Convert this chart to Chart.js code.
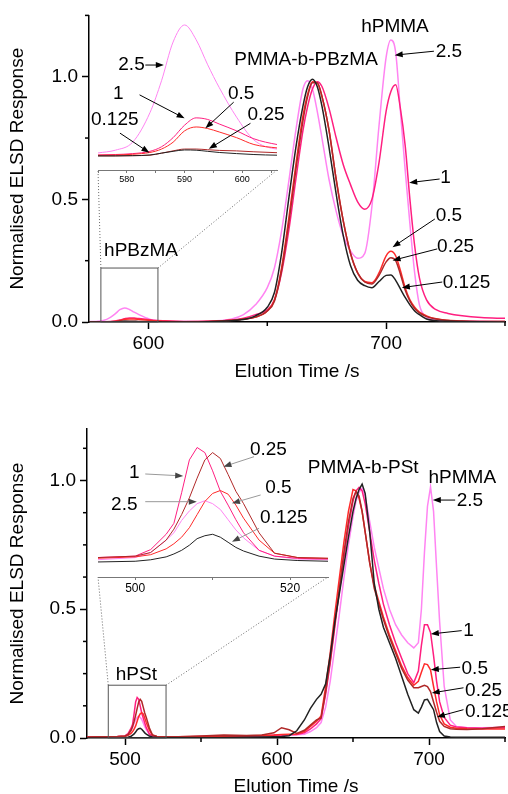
<!DOCTYPE html>
<html>
<head>
<meta charset="utf-8">
<title>ELSD traces</title>
<script src="https://cdn.jsdelivr.net/npm/chart.js@4.4.0/dist/chart.umd.min.js"></script>
<style>
  html, body { margin: 0; padding: 0; background: #fff; overflow: hidden; }
  #page { position: relative; width: 508px; height: 794px; overflow: hidden; }
  #page canvas { position: absolute; }
</style>
</head>
<body>
<div id="page">
  <canvas id="bzMain" width="508" height="400" style="left:0;top:0"></canvas>
  <canvas id="bzInset" width="200" height="176" style="left:88px;top:12px"></canvas>
  <canvas id="stMain" width="508" height="400" style="left:0;top:400px"></canvas>
  <canvas id="stInset" width="251" height="167" style="left:88px;top:430px"></canvas>
</div>
<script>
// concentrations, one trace each
const concLabels = ['0.125', '0.25', '0.5', '1', '2.5'];

// PMMA-b-PBzMA run
const timeBz = [575, 578, 581, 584, 586, 588, 590, 592, 594, 596,
  599, 602, 606, 615, 625, 635, 640, 645, 650, 653,
  656, 659, 662, 665, 667, 669, 671, 673, 676, 679,
  682, 685, 688, 691, 694, 697, 700, 702, 704, 706,
  708, 710, 712, 714, 717, 721, 726, 732, 740, 750];
const bz0125 = [0, 0, 0.0001, 0.0004, 0.0012, 0.002, 0.0026, 0.0025, 0.002, 0.0015,
  0.001, 0.0006, 0.0003, 0.0002, 0.001, 0.005, 0.01, 0.025, 0.06, 0.12,
  0.28, 0.5, 0.71, 0.88, 0.96, 0.99, 0.96, 0.88, 0.71, 0.52,
  0.35, 0.23, 0.17, 0.148, 0.14, 0.165, 0.19, 0.192, 0.17, 0.135,
  0.1, 0.07, 0.045, 0.03, 0.012, 0.005, 0.003, 0.002, 0.001, 0];
const bz025 = [0, 0, 0.0001, 0.0003, 0.0012, 0.0022, 0.003, 0.003, 0.0027, 0.0024,
  0.0022, 0.0018, 0.0014, 0.0008, 0.002, 0.007, 0.012, 0.02, 0.045, 0.085,
  0.21, 0.4, 0.62, 0.82, 0.92, 0.975, 0.975, 0.92, 0.78, 0.58,
  0.41, 0.28, 0.2, 0.163, 0.155, 0.19, 0.245, 0.262, 0.25, 0.195,
  0.13, 0.085, 0.055, 0.037, 0.022, 0.012, 0.006, 0.003, 0.002, 0.002];
const bz05 = [0.0003, 0.0004, 0.0007, 0.0015, 0.003, 0.006, 0.011, 0.0127, 0.012, 0.0105,
  0.008, 0.005, 0.0035, 0.0015, 0.002, 0.007, 0.012, 0.02, 0.045, 0.09,
  0.22, 0.42, 0.64, 0.84, 0.93, 0.98, 0.975, 0.92, 0.78, 0.58,
  0.41, 0.28, 0.2, 0.165, 0.16, 0.2, 0.27, 0.288, 0.27, 0.21,
  0.14, 0.09, 0.06, 0.04, 0.025, 0.013, 0.007, 0.004, 0.002, 0.002];
const bz1 = [0.0004, 0.0006, 0.001, 0.002, 0.004, 0.008, 0.0135, 0.0167, 0.016, 0.014,
  0.011, 0.0075, 0.005, 0.002, 0.003, 0.008, 0.015, 0.03, 0.05, 0.09,
  0.2, 0.37, 0.58, 0.78, 0.88, 0.95, 0.98, 0.96, 0.87, 0.75,
  0.64, 0.56, 0.49, 0.46, 0.5, 0.65, 0.86, 0.94, 0.967, 0.87,
  0.72, 0.5, 0.31, 0.18, 0.09, 0.05, 0.035, 0.025, 0.018, 0.015];
const bz25 = [0.0013, 0.0025, 0.006, 0.019, 0.033, 0.05, 0.0575, 0.051, 0.04, 0.03,
  0.017, 0.007, 0.003, 0.002, 0.003, 0.012, 0.03, 0.07, 0.14, 0.22,
  0.37, 0.57, 0.78, 0.95, 0.984, 0.95, 0.86, 0.75, 0.58, 0.45,
  0.35, 0.29, 0.26, 0.28, 0.47, 0.8, 1.08, 1.15, 1.1, 0.86,
  0.62, 0.4, 0.2, 0.07, 0.02, 0.008, 0.005, 0.004, 0.003, 0.002];

// PMMA-b-PSt run
const timeSt = [475, 485, 495, 500, 502, 504, 505, 506, 507, 508,
  509, 510, 511, 512, 513, 514, 516, 518, 521, 525,
  535, 550, 565, 580, 590, 598, 603, 608, 613, 618,
  622, 626, 629, 632, 635, 638, 641, 644, 647, 650,
  652, 654, 656, 658, 661, 664, 667, 670, 674, 678,
  682, 686, 690, 693, 695, 697, 699, 701, 703, 705,
  707, 710, 714, 718, 725, 735, 750];
const st0125 = [0, 0, 0, 0.001, 0.003, 0.007, 0.011, 0.016, 0.023, 0.032,
  0.036, 0.038, 0.034, 0.027, 0.02, 0.015, 0.008, 0.004, 0.002, 0.001,
  0.001, 0.001, 0.002, 0.003, 0.004, 0.005, 0.006, 0.009, 0.028, 0.07,
  0.115, 0.15, 0.17, 0.21, 0.32, 0.45, 0.56, 0.67, 0.78, 0.88,
  0.93, 0.965, 0.986, 0.95, 0.8, 0.6, 0.5, 0.43, 0.37, 0.31,
  0.24, 0.17, 0.11, 0.097, 0.12, 0.148, 0.15, 0.13, 0.11, 0.06,
  0.025, 0.008, 0.004, 0.003, 0.003, 0.003, 0.003];
const st025 = [0.004, 0.005, 0.006, 0.008, 0.013, 0.03, 0.045, 0.065, 0.088, 0.115,
  0.14, 0.15, 0.142, 0.12, 0.097, 0.08, 0.04, 0.012, 0.006, 0.005,
  0.005, 0.008, 0.012, 0.01, 0.012, 0.02, 0.04, 0.032, 0.018, 0.03,
  0.05, 0.07, 0.078, 0.18, 0.3, 0.44, 0.58, 0.72, 0.84, 0.93,
  0.957, 0.94, 0.88, 0.8, 0.68, 0.58, 0.52, 0.46, 0.39, 0.33,
  0.27, 0.225, 0.195, 0.195, 0.2, 0.205, 0.2, 0.18, 0.14, 0.1,
  0.065, 0.045, 0.036, 0.034, 0.033, 0.036, 0.045];
const st05 = [0.003, 0.004, 0.005, 0.007, 0.01, 0.018, 0.025, 0.034, 0.047, 0.065,
  0.083, 0.094, 0.098, 0.093, 0.078, 0.06, 0.03, 0.012, 0.006, 0.005,
  0.005, 0.006, 0.007, 0.008, 0.01, 0.012, 0.014, 0.015, 0.016, 0.025,
  0.045, 0.065, 0.085, 0.2, 0.33, 0.48, 0.62, 0.76, 0.88, 0.965,
  0.96, 0.93, 0.88, 0.8, 0.68, 0.59, 0.53, 0.47, 0.4, 0.34,
  0.28, 0.235, 0.205, 0.22, 0.255, 0.288, 0.285, 0.265, 0.2, 0.14,
  0.09, 0.055, 0.042, 0.038, 0.036, 0.035, 0.035];
const st1 = [0.004, 0.005, 0.006, 0.008, 0.017, 0.038, 0.053, 0.095, 0.14, 0.157,
  0.15, 0.125, 0.097, 0.078, 0.058, 0.04, 0.016, 0.008, 0.005, 0.004,
  0.004, 0.006, 0.006, 0.007, 0.009, 0.011, 0.012, 0.013, 0.014, 0.02,
  0.035, 0.055, 0.075, 0.17, 0.29, 0.43, 0.57, 0.7, 0.82, 0.92,
  0.96, 0.973, 0.96, 0.91, 0.8, 0.69, 0.6, 0.52, 0.44, 0.37,
  0.31, 0.25, 0.215, 0.26, 0.36, 0.44, 0.44, 0.41, 0.32, 0.22,
  0.14, 0.08, 0.05, 0.043, 0.04, 0.038, 0.04];
const st25 = [0.002, 0.003, 0.003, 0.006, 0.013, 0.03, 0.04, 0.057, 0.07, 0.08,
  0.084, 0.08, 0.072, 0.058, 0.044, 0.033, 0.016, 0.008, 0.004, 0.003,
  0.003, 0.004, 0.005, 0.006, 0.008, 0.01, 0.011, 0.012, 0.013, 0.015,
  0.025, 0.04, 0.06, 0.12, 0.22, 0.35, 0.48, 0.62, 0.75, 0.86,
  0.92, 0.955, 0.969, 0.94, 0.84, 0.74, 0.66, 0.58, 0.5, 0.44,
  0.4, 0.37, 0.35, 0.37, 0.5, 0.72, 0.9, 0.975, 0.88, 0.66,
  0.45, 0.2, 0.07, 0.045, 0.04, 0.04, 0.042];

// labelled tick values
const bzMajorX = [600, 700];
const stMajorX = [500, 600, 700];
const bzInsetX = [580, 590, 600];
const stInsetX = [500, 520];

const lineColors = ['#222222', '#b02828', '#ff2a2a', '#ff1f80', '#ff84f2'];
const FONT = 'Liberation Sans, Arial, Helvetica, sans-serif';

function datasets(time, series, width, tension) {
  return series.map((vals, i) => ({
    label: concLabels[i],
    data: vals.map((v, k) => ({ x: time[k], y: v })),
    borderColor: lineColors[i],
    borderWidth: width,
    pointRadius: 0,
    fill: false,
    tension: tension,
    cubicInterpolationMode: tension > 0 ? 'monotone' : 'default'
  }));
}

const isHalf = v => Math.abs(v * 2 - Math.round(v * 2)) < 1e-6;

// short ticks for the unlabelled positions
function minorTicks(majorX) {
  return {
    id: 'minorTicks',
    afterDraw(chart) {
      const { ctx } = chart;
      const xs = chart.scales.x, ys = chart.scales.y;
      ctx.save();
      ctx.strokeStyle = '#000';
      ctx.lineWidth = 1.5;
      xs.ticks.forEach(t => {
        if (majorX.includes(t.value)) return;
        const p = xs.getPixelForValue(t.value);
        ctx.beginPath(); ctx.moveTo(p, xs.top); ctx.lineTo(p, xs.top + 4); ctx.stroke();
      });
      ys.ticks.forEach(t => {
        if (isHalf(t.value)) return;
        const p = ys.getPixelForValue(t.value);
        ctx.beginPath(); ctx.moveTo(ys.right, p); ctx.lineTo(ys.right - 4, p); ctx.stroke();
      });
      ctx.restore();
    }
  };
}

function arrow(ctx, x0, y0, x1, y1, lineColor, headColor) {
  const a = Math.atan2(y1 - y0, x1 - x0);
  const len = 8, half = 3;
  ctx.strokeStyle = lineColor;
  ctx.lineWidth = 1;
  ctx.beginPath(); ctx.moveTo(x0, y0); ctx.lineTo(x1 - Math.cos(a) * 4, y1 - Math.sin(a) * 4); ctx.stroke();
  ctx.fillStyle = headColor;
  ctx.beginPath();
  ctx.moveTo(x1, y1);
  ctx.lineTo(x1 - len * Math.cos(a) + half * Math.sin(a), y1 - len * Math.sin(a) - half * Math.cos(a));
  ctx.lineTo(x1 - len * Math.cos(a) - half * Math.sin(a), y1 - len * Math.sin(a) + half * Math.cos(a));
  ctx.closePath();
  ctx.fill();
}

// text labels with optional arrows, placed in data units
function notes(list, lineColor, headColor) {
  return {
    id: 'notes',
    afterDraw(chart) {
      const { ctx } = chart;
      const xs = chart.scales.x, ys = chart.scales.y;
      const px = p => [xs.getPixelForValue(p[0]), ys.getPixelForValue(p[1])];
      ctx.save();
      ctx.font = '19px ' + FONT;
      ctx.textAlign = 'center';
      ctx.textBaseline = 'middle';
      list.forEach(n => {
        const [tx, ty] = px(n.at);
        ctx.fillStyle = '#000';
        ctx.fillText(n.text, tx, ty);
        if (n.from) {
          const [x0, y0] = px(n.from);
          const [x1, y1] = px(n.to);
          arrow(ctx, x0, y0, x1, y1, lineColor, headColor);
        }
      });
      ctx.restore();
    }
  };
}

// zoom box on the main axes with dotted leaders up to the inset axis
function zoomBox(box, getInset) {
  return {
    id: 'zoomBox',
    afterDraw(chart) {
      const inset = getInset();
      if (!inset) return;
      const { ctx } = chart;
      const xs = chart.scales.x, ys = chart.scales.y;
      const l = xs.getPixelForValue(box.x[0]), r = xs.getPixelForValue(box.x[1]);
      const t = ys.getPixelForValue(box.y[1]), b = ys.getPixelForValue(box.y[0]);
      const dx = inset.canvas.offsetLeft - chart.canvas.offsetLeft;
      const dy = inset.canvas.offsetTop - chart.canvas.offsetTop;
      const ia = inset.chartArea;
      ctx.save();
      ctx.strokeStyle = '#555';
      ctx.lineWidth = 1;
      ctx.strokeRect(l, t, r - l, b - t);
      ctx.strokeStyle = '#666';
      ctx.setLineDash([1, 2]);
      ctx.beginPath();
      ctx.moveTo(l, t); ctx.lineTo(dx + ia.left, dy + ia.bottom);
      ctx.moveTo(r, t); ctx.lineTo(dx + ia.right, dy + ia.bottom);
      ctx.stroke();
      ctx.restore();
    }
  };
}

function mainChart(id, cfg) {
  return new Chart(document.getElementById(id), {
    type: 'line',
    data: { datasets: datasets(cfg.time, cfg.series, 1.5, cfg.tension) },
    options: {
      responsive: false,
      animation: false,
      devicePixelRatio: 1,
      layout: { padding: { top: cfg.padTop, right: 1, left: 0, bottom: 0 } },
      plugins: { legend: { display: false }, tooltip: { enabled: false } },
      scales: {
        x: {
          type: 'linear', min: cfg.xMin, max: cfg.xMax,
          afterFit: s => { s.height = cfg.xHeight; },
          border: { color: '#000', width: 1.5 },
          grid: {
            drawOnChartArea: false, tickLength: 7, tickWidth: 1.5,
            tickColor: c => cfg.majorX.includes(c.tick && c.tick.value) ? '#000' : 'rgba(0,0,0,0)'
          },
          ticks: {
            stepSize: 50, includeBounds: false, autoSkip: false, maxRotation: 0,
            color: '#000', padding: 3, font: { family: FONT, size: 19 },
            callback: v => cfg.majorX.includes(v) ? String(v) : ''
          },
          title: {
            display: true, text: 'Elution Time /s', color: '#000',
            font: { family: FONT, size: 19 }, padding: { top: 0, bottom: cfg.titlePad }
          }
        },
        y: {
          min: 0, max: cfg.yMax,
          afterFit: s => { s.width = cfg.yWidth; },
          border: { color: '#000', width: 1.5 },
          grid: {
            drawOnChartArea: false, tickLength: 7, tickWidth: 1.5,
            tickColor: c => (c.tick && isHalf(c.tick.value)) ? '#000' : 'rgba(0,0,0,0)'
          },
          ticks: {
            stepSize: cfg.yStep, includeBounds: false, autoSkip: false,
            color: '#000', padding: 4, font: { family: FONT, size: 19 },
            callback: v => isHalf(v) ? v.toFixed(1) : ''
          },
          title: {
            display: true, text: 'Normalised ELSD Response', color: '#000',
            font: { family: FONT, size: 19 }, padding: { top: 6, bottom: 0 }
          }
        }
      }
    },
    plugins: [minorTicks(cfg.majorX), zoomBox(cfg.box, cfg.inset), notes(cfg.notes, '#000', '#000')]
  });
}

function insetChart(id, cfg) {
  return new Chart(document.getElementById(id), {
    type: 'line',
    data: { datasets: datasets(cfg.time, cfg.series, 1, cfg.tension) },
    options: {
      responsive: false,
      animation: false,
      devicePixelRatio: 1,
      layout: { padding: { top: 0, right: cfg.padRight, left: 10, bottom: 0 } },
      plugins: { legend: { display: false }, tooltip: { enabled: false } },
      scales: {
        x: {
          type: 'linear', min: cfg.xMin, max: cfg.xMax,
          afterFit: s => { s.height = cfg.xHeight; },
          border: { color: '#777', width: 1 },
          grid: { drawOnChartArea: false, tickLength: 3, tickColor: '#777' },
          ticks: {
            stepSize: cfg.xStep, includeBounds: false, autoSkip: false, maxRotation: 0,
            color: '#000', padding: 1, font: { family: FONT, size: cfg.fontSize },
            callback: v => cfg.labelX.includes(v) ? String(v) : ''
          }
        },
        y: { display: false, min: cfg.yMin, max: cfg.yMax }
      }
    },
    plugins: [notes(cfg.notes, cfg.arrowLine, cfg.arrowHead)]
  });
}

const bzInset = insetChart('bzInset', {
  time: timeBz, series: [bz0125, bz025, bz05, bz1, bz25], tension: 0.4,
  xMin: 575, xMax: 606, xStep: 5, labelX: bzInsetX, fontSize: 9,
  yMin: -0.0062, yMax: 0.0632, xHeight: 18, padRight: 11,
  arrowLine: '#000', arrowHead: '#000',
  notes: [
    { text: '2.5', at: [580.8, 0.0399], from: [583.2, 0.0399], to: [586.4, 0.0399] },
    { text: '1', at: [578.5, 0.0271], from: [582.2, 0.0268], to: [590.0, 0.0165] },
    { text: '0.125', at: [577.9, 0.0158], from: [578.8, 0.0100], to: [583.9, 0.0014] },
    { text: '0.5', at: [599.8, 0.0275], from: [598.5, 0.0236], to: [593.6, 0.0121] },
    { text: '0.25', at: [604.1, 0.0180], from: [601.4, 0.0143], to: [594.2, 0.0031] }
  ]
});

const stInset = insetChart('stInset', {
  time: timeSt, series: [st0125, st025, st05, st1, st25], tension: 0,
  xMin: 495.2, xMax: 524.9, xStep: 10, labelX: stInsetX, fontSize: 12,
  yMin: -0.0206, yMax: 0.181, xHeight: 20, padRight: 11,
  arrowLine: '#999', arrowHead: '#444',
  notes: [
    { text: '1', at: [499.9, 0.1217], from: [501.3, 0.1207], to: [506.2, 0.118] },
    { text: '2.5', at: [498.6, 0.0782], from: [501.3, 0.0827], to: [507.96, 0.0827] },
    { text: '0.25', at: [517.2, 0.1536], from: [515.35, 0.1444], to: [511.4, 0.1307] },
    { text: '0.5', at: [518.5, 0.1011], from: [516.2, 0.0919], to: [512.5, 0.0805] },
    { text: '0.125', at: [519.2, 0.06], from: [516.0, 0.0462], to: [512.5, 0.0278] }
  ]
});

mainChart('bzMain', {
  time: timeBz, series: [bz0125, bz025, bz05, bz1, bz25], tension: 0.4,
  xMin: 575, xMax: 750, majorX: bzMajorX, yMax: 1.25, yStep: 0.25,
  padTop: 13, xHeight: 78, yWidth: 89, titlePad: 17,
  box: { x: [580, 604], y: [0, 0.22] }, inset: () => bzInset,
  notes: [
    { text: 'PMMA-b-PBzMA', at: [666.3, 1.069] },
    { text: 'hPMMA', at: [703.7, 1.202] },
    { text: '2.5', at: [726.4, 1.101], from: [720.1, 1.104], to: [703.6, 1.088] },
    { text: '1', at: [725.0, 0.587], from: [722.5, 0.583], to: [709.7, 0.568] },
    { text: '0.5', at: [726.4, 0.433], from: [720.5, 0.42], to: [702.7, 0.305] },
    { text: '0.25', at: [729.2, 0.308], from: [721.5, 0.298], to: [702.7, 0.251] },
    { text: '0.125', at: [733.8, 0.159], from: [723.6, 0.163], to: [706.6, 0.14] },
    { text: 'hPBzMA', at: [596.9, 0.289] }
  ]
});

mainChart('stMain', {
  time: timeSt, series: [st0125, st025, st05, st1, st25], tension: 0,
  xMin: 475, xMax: 750, majorX: stMajorX, yMax: 1.2, yStep: 0.125,
  padTop: 29, xHeight: 62, yWidth: 87, titlePad: 2,
  box: { x: [489, 527], y: [0, 0.205] }, inset: () => stInset,
  notes: [
    { text: 'PMMA-b-PSt', at: [656.7, 1.048] },
    { text: 'hPMMA', at: [721.9, 1.009] },
    { text: '2.5', at: [726.9, 0.922], from: [717.2, 0.924], to: [702.5, 0.924] },
    { text: '1', at: [726.0, 0.417], from: [721.5, 0.417], to: [701.2, 0.404] },
    { text: '0.5', at: [730.1, 0.269], from: [720.5, 0.275], to: [701.2, 0.265] },
    { text: '0.25', at: [735.9, 0.185], from: [722.7, 0.195], to: [701.8, 0.175] },
    { text: '0.125', at: [739.3, 0.101], from: [722.7, 0.11], to: [705.2, 0.082] },
    { text: 'hPSt', at: [507.5, 0.247] }
  ]
});
</script>
</body>
</html>
